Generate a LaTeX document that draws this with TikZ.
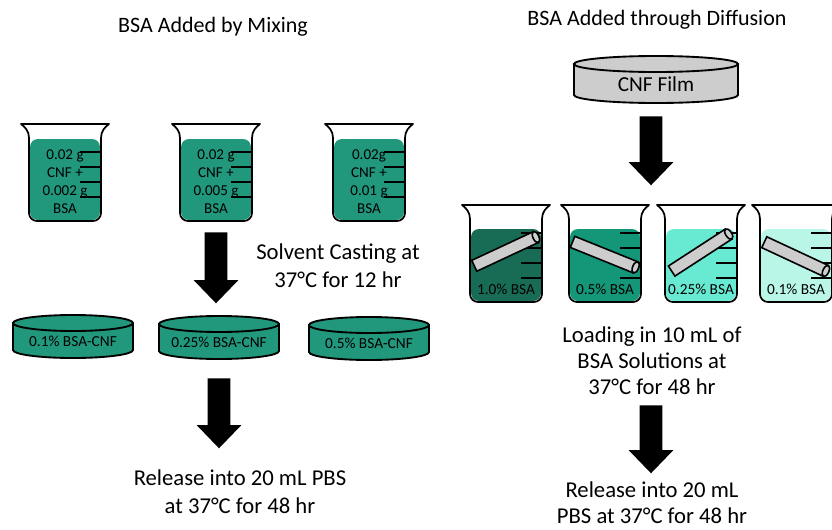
\documentclass[tikz,border=0pt]{standalone}
\usepackage{fontspec}
\setmainfont{Carlito}
\usetikzlibrary{shapes.arrows}

\begin{document}
\begin{tikzpicture}[x=0.75pt, y=-0.75pt]
  % Colors
  \definecolor{mixcol}{RGB}{33,152,124}
  \definecolor{loadAcol}{RGB}{24,108,86}
  \definecolor{loadBcol}{RGB}{20,150,120}
  \definecolor{loadCcol}{RGB}{104,234,210}
  \definecolor{loadDcol}{RGB}{186,246,232}
  \definecolor{filmcol}{RGB}{205,205,205}
  %
  \tikzset{
    glass/.style={line width=1.3pt, line join=round},
    tick/.style={line width=0.8pt},
    disc/.style={line width=1.4pt},
    bigarrow/.style={single arrow, fill=black, draw=none, rotate=-90, anchor=tail,
                     inner xsep=0pt, inner ysep=8.25pt, single arrow head extend=8.25pt,
                     single arrow tip angle=88, minimum height=#1*0.75pt},
    title/.style={font=\fontsize{16.5}{20}\selectfont},
    steptext/.style={font=\fontsize{17}{21}\selectfont, align=center},
    steptextR/.style={font=\fontsize{17}{19.5}\selectfont, align=center, inner sep=1pt},
    cuplabel/.style={font=\fontsize{11.3}{13.5}\selectfont, align=center},
    disclabel/.style={font=\fontsize{11.5}{13}\selectfont},
  }
  %
  % beaker: centre x, rim y, liquid colour, liquid top
  \def\beaker#1#2#3#4{%
    \fill[#3, rounded corners=6pt] ({#1-35},{#2+#4}) rectangle ({#1+35},{#2+96});
    \foreach \t in {28,43,58,73}
      \draw[tick] ({#1+15},{#2+\t}) -- ({#1+36},{#2+\t});
    \draw[glass, rounded corners=6pt] ({#1-36},{#2+14}) -- ({#1-36},{#2+97})
      -- ({#1+36},{#2+97}) -- ({#1+36},{#2+14});
    \draw[glass] ({#1-36},{#2+14}) .. controls ({#1-36},{#2+7}) and ({#1-40},{#2+3}) .. ({#1-44},{#2})
      -- ({#1+44},{#2}) .. controls ({#1+40},{#2+3}) and ({#1+36},{#2+7}) .. ({#1+36},{#2+14});
  }
  % disc: centre x, top y, half width, depth, fill
  \def\disc#1#2#3#4#5{%
    \filldraw[disc, fill=#5] ({#1-#3},#2) -- ({#1-#3},{#2+#4})
      arc[start angle=180, end angle=0, x radius=#3, y radius=8] -- ({#1+#3},#2) -- cycle;
    \filldraw[disc, fill=#5] (#1,#2) ellipse [x radius=#3, y radius=8];
  }
  % film lying in a beaker: centre x, centre y, tilt
  \def\slab#1#2#3{%
    \begin{scope}[shift={(#1,#2)}, rotate=#3]
      \filldraw[disc, line width=1.2pt, fill=filmcol] (-35,-6) rectangle (33,6);
      \filldraw[disc, line width=1.2pt, fill=filmcol] (33,0) ellipse [x radius=3, y radius=6];
    \end{scope}
  }
  %
  \clip (0,0) rectangle (832,529);
  %
  %%% LEFT SIDE %%%
  \node[title] (titleMix) at (213,27) {BSA Added by Mixing};
  %
  % Mixed beakers
  \foreach \n/\cx/\txt in {
    1/65/{0.02 g\\CNF +\\0.002 g\\BSA},
    2/216/{0.02 g\\CNF +\\0.005 g\\BSA},
    3/369/{0.02g\\CNF +\\0.01 g\\BSA}%
  } {
    \beaker{\cx}{124}{mixcol}{15}
    \node[cuplabel] (mix\n) at (\cx,182) {\txt};
  }
  %
  \node[bigarrow=71] (castArrow) at (216,232) {};
  \node[steptext] (cast) at (338,266) {Solvent Casting at\\37°C for 12 hr};
  %
  % Cast films
  \foreach \n/\cx/\cy/\txt in {
    1/73/323/{0.1\% BSA-CNF},
    2/219/324/{0.25\% BSA-CNF},
    3/369/325/{0.5\% BSA-CNF}%
  } {
    \disc{\cx}{\cy}{60}{27}{mixcol}
    \node[disclabel] (cast\n) at (\cx,{\cy+18}) {\txt};
  }
  %
  \node[bigarrow=70] (releaseArrowL) at (219,378) {};
  \node[steptext] (releaseL) at (240,492) {Release into 20 mL PBS\\at 37°C for 48 hr};
  %
  %%% RIGHT SIDE %%%
  \node[title] (titleDiff) at (657,20) {BSA Added through Diffusion};
  %
  \disc{656}{64}{82}{31}{filmcol}
  \node[font=\fontsize{16}{19}\selectfont] (cnf) at (656,84) {CNF Film};
  %
  \node[bigarrow=69] (loadArrow) at (651,116) {};
  %
  % Loading beakers
  \foreach \n/\cx/\col/\tilt/\fy/\txt in {
    1/506/loadAcol/25/251/{1.0\% BSA},
    2/605/loadBcol/-22/255/{0.5\% BSA},
    3/701/loadCcol/33/252/{0.25\% BSA},
    4/796/loadDcol/-25/257/{0.1\% BSA}%
  } {
    \beaker{\cx}{205}{\col}{24}
    \slab{\cx}{\fy}{\tilt}
    \node[disclabel] (load\n) at (\cx,289) {\txt};
  }
  %
  \node[steptextR] (loading) at (652,361) {Loading in 10 mL of\\BSA Solutions at\\37°C for 48 hr};
  \node[bigarrow=68] (releaseArrowR) at (651,405) {};
  \node[steptextR] (releaseR) at (652,503) {Release into 20 mL\\PBS at 37°C for 48 hr};
\end{tikzpicture}
\end{document}
